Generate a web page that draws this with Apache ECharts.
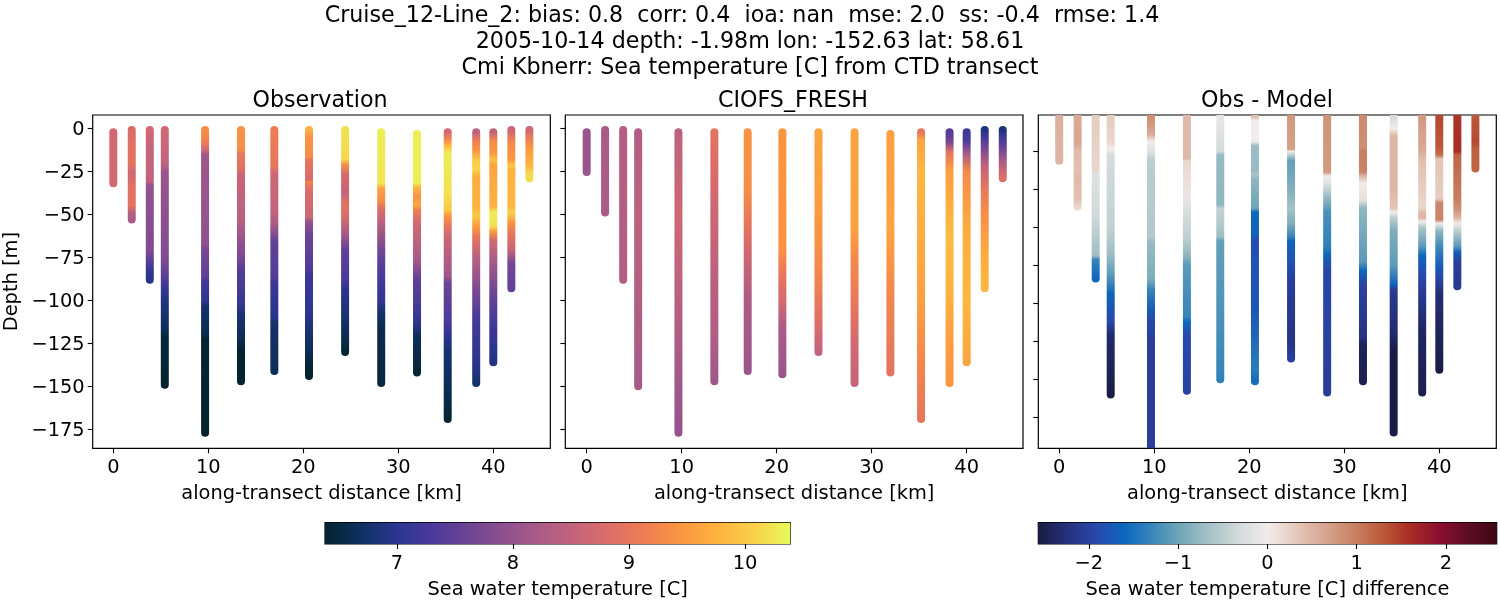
<!DOCTYPE html>
<html>
<head>
<meta charset="utf-8">
<title>Cruise_12-Line_2</title>
<script src="https://cdn.jsdelivr.net/npm/echarts@6/dist/echarts.min.js"></script>
<style>
html, body { margin: 0; padding: 0; background: #fff; }
#chart { width: 1500px; height: 600px; }
</style>
</head>
<body>
<div id="chart"></div>
<script>
// along-transect distance of each CTD cast [km]
const stationKm = [0, 1.94, 3.84, 5.42, 9.66, 13.44, 16.95, 20.6, 24.4, 28.2, 31.97, 35.2, 38.2, 40, 41.9, 43.8];

// one list per cast: [depth m, temperature C]
const obsCasts = [
    [[2.3, 8.7], [32, 8.7]],
    [[1, 8.8], [9, 8.9], [20, 8.95], [26, 8.65], [34, 8.9], [45, 8.95], [49, 8.4], [53, 8.2]],
    [[1, 8.7], [9, 8.55], [31, 8.5], [33, 8.0], [47, 7.9], [71, 7.8], [77, 7.45], [82, 7.1], [88, 6.95]],
    [[1, 8.65], [20, 8.5], [26, 8.05], [75, 7.8], [86, 7.45], [92, 7.15], [102, 6.85], [117, 6.65], [121, 6.45], [149, 6.4]],
    [[1, 9.35], [7, 9.2], [12.6, 8.7], [15.5, 8.1], [67, 7.95], [71, 7.7], [86, 7.5], [90, 7.2], [100, 7.05], [104, 6.75], [119, 6.6], [123, 6.42], [177, 6.38]],
    [[1, 9.4], [12.6, 9.35], [14.5, 9.05], [24, 8.9], [26, 8.6], [53, 8.4], [65, 8.0], [76.5, 7.7], [82, 7.4], [102, 7.1], [107.5, 6.85], [123, 6.6], [129, 6.4], [147, 6.38]],
    [[1, 9.1], [22, 9.0], [26, 8.65], [47.5, 8.55], [55, 8.25], [66.5, 7.5], [86, 7.4], [90, 7.15], [109.5, 7.0], [113, 6.75], [141, 6.65]],
    [[1, 9.75], [5, 9.4], [16.5, 9.35], [18.5, 9.0], [30, 8.75], [31, 9.2], [36, 8.8], [52, 8.6], [54, 8.0], [63, 7.6], [80.5, 7.4], [86, 7.15], [105.6, 7.05], [115, 6.85], [129, 6.65], [137, 6.42], [144, 6.4]],
    [[1, 10.2], [18, 10.15], [21, 9.4], [26, 8.8], [37.5, 8.5], [44, 8.95], [51, 8.8], [61, 8.2], [70.7, 7.5], [88, 7.3], [94, 7.0], [105.6, 6.85], [121, 6.6], [130, 6.42]],
    [[2.3, 10.3], [32, 10.25], [35, 9.6], [41.7, 9.35], [47.5, 8.8], [55, 8.4], [72.7, 7.6], [86, 7.3], [100, 7.05], [107.5, 6.75], [117, 6.55], [148, 6.5]],
    [[3.3, 10.3], [32, 10.3], [34, 9.8], [39.7, 9.4], [44.6, 9.65], [47.5, 9.15], [55, 8.7], [76.5, 8.2], [88, 7.5], [105.6, 7.2], [115, 6.95], [121, 6.65], [142, 6.42]],
    [[2.3, 8.7], [7, 9.35], [10.7, 9.9], [14.5, 10.3], [38, 10.2], [47.5, 10.0], [51, 9.4], [57, 9.0], [63, 8.6], [86, 8.1], [90, 7.6], [109.5, 7.35], [121, 7.0], [129, 6.8], [152, 6.6], [169, 6.4]],
    [[2.3, 8.45], [7, 9.1], [12.6, 9.4], [18.4, 10.0], [24, 10.1], [28, 9.7], [45.5, 9.75], [51, 10.0], [57, 9.5], [63, 9.0], [75, 8.4], [96, 7.7], [111, 7.25], [125, 7.1], [140, 6.95], [148, 6.75]],
    [[2.3, 8.5], [7, 9.3], [14.5, 9.5], [18.4, 9.9], [21, 9.6], [45.5, 9.75], [49, 10.3], [57, 10.2], [60, 9.5], [65, 8.7], [76.5, 8.2], [96, 7.6], [115, 7.2], [127, 7.0], [136, 6.9]],
    [[1, 8.6], [8.7, 9.3], [18.4, 9.5], [22, 10.0], [24, 9.75], [45.5, 9.8], [49, 10.1], [55, 9.4], [61, 9.0], [71, 8.5], [78.5, 7.7], [93, 7.5]],
    [[1, 8.65], [7, 9.2], [11.6, 9.5], [22, 9.8], [26, 10.15], [29, 10.15]]
];

// same casts in the CIOFS_FRESH panel
const modelCasts = [
    [[2.3, 8.05], [25.4, 8.05]],
    [[1, 8.2], [25, 8.25], [49, 8.2]],
    [[1, 8.35], [45, 8.35], [88, 8.3]],
    [[2.3, 8.3], [50, 8.45], [100, 8.3], [150, 8.2]],
    [[2.3, 8.45], [50, 8.65], [100, 8.4], [150, 8.1], [177, 8.0]],
    [[2.3, 8.95], [40, 8.7], [90, 8.4], [120, 8.3], [147, 8.1]],
    [[2.3, 9.4], [35, 9.35], [55, 9.0], [70, 8.7], [100, 8.25], [141, 8.05]],
    [[2.3, 9.45], [70, 9.4], [85, 9.0], [100, 8.75], [115, 8.25], [143, 8.05]],
    [[2.3, 9.6], [40, 9.55], [80, 9.3], [110, 8.9], [130, 8.5]],
    [[2.3, 9.6], [60, 9.55], [75, 9.3], [100, 9.05], [125, 8.7], [148, 8.55]],
    [[3.3, 9.55], [60, 9.6], [90, 9.3], [142, 8.95]],
    [[2.3, 9.0], [7, 9.6], [25, 9.8], [60, 9.7], [100, 9.55], [130, 9.3], [169, 9.0]],
    [[2.3, 7.4], [8, 7.7], [14, 9.0], [25, 9.55], [60, 9.85], [90, 9.8], [120, 9.55], [148, 9.45]],
    [[2.3, 7.2], [7, 7.3], [15, 8.2], [25, 9.3], [60, 9.7], [100, 9.8], [136, 9.6]],
    [[1, 6.9], [5, 7.2], [10, 7.6], [22, 8.5], [35, 9.0], [50, 9.35], [75, 9.7], [93, 9.8]],
    [[1, 6.85], [5, 7.2], [10, 7.5], [20, 8.3], [29, 8.85]]
];

// [depth m, obs - model C] as plotted in the right panel
const diffCasts = [
    [[2, 0.55], [25, 0.5]],
    [[2, 0.6], [15, 0.65], [20, 0.45], [30, 0.4], [33, 0.45], [45, 0.4], [49, 0.2]],
    [[2, 0.3], [30, 0.2], [32, -0.2], [55, -0.35], [60, -0.45], [75, -0.7], [77, -1.3], [87, -1.6]],
    [[2, 0.3], [15, 0.2], [19, 0.0], [22, -0.3], [60, -0.45], [74, -0.7], [85, -1.1], [95, -1.6], [110, -1.95], [117, -2.35], [148, -2.55]],
    [[2, 0.85], [11, 0.6], [15, 0.0], [20, -0.2], [25, -0.5], [65, -0.55], [68, -0.75], [87, -0.9], [93, -1.3], [103, -1.7], [108, -1.9], [120, -2.05], [178, -2.05]],
    [[2, 0.45], [24, 0.45], [25, 0.2], [40, 0.1], [45, -0.1], [55, -0.35], [65, -0.45], [75, -0.8], [80, -1.1], [107, -1.3], [110, -1.6], [117, -1.9], [146, -2.0]],
    [[2, -0.1], [20, -0.3], [22, -0.75], [48, -0.8], [50, -0.45], [55, -0.5], [65, -0.7], [67, -1.05], [110, -1.2], [135, -1.3], [140, -1.35]],
    [[2, 0.4], [4, 0.0], [15, 0.0], [17, -0.7], [30, -0.75], [32, -0.6], [35, -0.8], [50, -1.0], [52, -1.6], [64, -1.65], [66, -1.85], [105, -1.75], [135, -1.4], [141, -1.55]],
    [[2, 0.75], [19, 0.7], [20, 0.0], [22, -0.5], [25, -1.05], [42, -0.85], [50, -0.65], [58, -0.9], [65, -1.3], [67, -1.6], [80, -1.85], [87, -2.05], [120, -2.2], [129, -2.05]],
    [[2, 0.8], [31, 0.75], [33, 0.0], [37, -0.2], [45, -0.8], [52, -1.2], [70, -1.35], [75, -1.65], [83, -1.95], [147, -2.05]],
    [[2, 0.9], [18, 0.85], [20, 1.0], [31, 0.95], [33, 0.5], [37, 0.0], [43, 0.1], [46, -0.2], [50, -0.8], [78, -1.1], [83, -1.6], [90, -2.0], [118, -2.2], [122, -2.45], [141, -2.5]],
    [[2, -0.3], [8, 0.0], [12, 0.5], [40, 0.5], [50, 0.35], [52, 0.0], [55, -0.5], [62, -0.9], [80, -1.1], [90, -1.65], [93, -2.1], [115, -2.3], [125, -2.55], [168, -2.55]],
    [[2, 0.75], [20, 0.6], [25, 0.4], [50, 0.2], [52, 0.45], [55, 0.5], [57, 0.0], [60, -0.6], [70, -1.1], [75, -1.6], [85, -1.9], [95, -2.1], [115, -2.4], [147, -2.5]],
    [[2, 1.4], [18, 1.3], [22, 1.1], [24, 0.35], [45, 0.3], [47, 0.9], [56, 0.95], [58, 0.0], [62, -0.8], [70, -1.25], [80, -1.7], [88, -2.0], [95, -2.3], [135, -2.55]],
    [[2, 1.55], [20, 1.6], [22, 1.2], [45, 1.0], [50, 0.85], [55, 0.5], [58, 0.0], [62, -0.5], [70, -1.1], [73, -1.7], [78, -2.05], [91, -2.1]],
    [[2, 1.3], [15, 1.4], [19, 1.25], [29, 1.2]]
];

const distTicks = [0, 10, 20, 30, 40];
const depthTicks = [0, -25, -50, -75, -100, -125, -150, -175];
const diffDepthTicks = [-20, -40, -60, -80, -100, -120, -140, -160];
const tempTicks = [7, 8, 9, 10];
const diffTicks = [-2, -1, 0, 1, 2];

const thermalColors = ['#04232f', '#0d3160', '#2b3590', '#4b3a9c', '#6d4495', '#8e5090', '#ab5c87', '#c5647b', '#dd6e68', '#f07f52', '#fb9740', '#fdb440', '#f9d04a', '#e8f95a'];
const balanceColors = ['#181c43', '#26307c', '#2a47ad', '#0c66bd', '#3b87b9', '#74a8b8', '#a7c3c8', '#d3dadb', '#f1ecea', '#e5c8bc', '#d7a590', '#c98265', '#bc5a3b', '#a82b24', '#8b0f2e', '#5e0c26', '#3c0912'];

const tempRange = [6.38, 10.39];
const diffRange = [-2.567, 2.57];

const FONT = 'DejaVu Sans';
const LABEL_SIZE = 19.4;
const TITLE_SIZE = 22.2;
const CAST_WIDTH = 8;

function minusSign(v) {
    return String(v).replace('-', '\u2212');
}

function pick(colors, range, v) {
    return echarts.color.lerp((v - range[0]) / (range[1] - range[0]), colors);
}

// one rounded stroke per cast, the colour running down it through the read values
function castSeries(idx, casts, colors, range) {
    return {
        type: 'custom',
        xAxisIndex: idx,
        yAxisIndex: idx,
        clip: true,
        encode: { x: 0, y: 1 },
        data: stationKm.map(function (km, i) {
            return [km, -casts[i][0][0], -casts[i][casts[i].length - 1][0]];
        }),
        renderItem: function (params, api) {
            const cast = casts[params.dataIndex];
            const top = api.coord([api.value(0), api.value(1)]);
            const bottom = api.coord([api.value(0), api.value(2)]);
            const r = CAST_WIDTH / 2;
            const h = bottom[1] - top[1] + CAST_WIDTH;
            const stops = cast.map(function (p) {
                const y = api.coord([api.value(0), -p[0]])[1];
                return { offset: (y - top[1] + r) / h, color: pick(colors, range, p[1]) };
            });
            return {
                type: 'rect',
                shape: { x: top[0] - r, y: top[1] - r, width: CAST_WIDTH, height: h, r: r },
                style: { fill: new echarts.graphic.LinearGradient(0, 0, 0, 1, stops) }
            };
        }
    };
}

function colorbarSeries(idx, colors, range) {
    return {
        type: 'custom',
        xAxisIndex: idx,
        yAxisIndex: idx,
        data: [[range[0], range[1]]],
        renderItem: function (params, api) {
            const a = api.coord([api.value(0), 1]);
            const b = api.coord([api.value(1), 0]);
            const stops = colors.map(function (c, i) {
                return { offset: i / (colors.length - 1), color: c };
            });
            return {
                type: 'rect',
                shape: { x: a[0], y: a[1], width: b[0] - a[0], height: b[1] - a[1] },
                style: { fill: new echarts.graphic.LinearGradient(0, 0, 1, 0, stops) }
            };
        }
    };
}

function panelGrid(left, right) {
    return { left: left, width: right - left, top: 115, height: 333.3, show: true, borderColor: '#000', borderWidth: 1.2, backgroundColor: 'transparent' };
}

function xAxisOf(gridIndex, min, max, ticks, name, gap) {
    return {
        type: 'value',
        gridIndex: gridIndex,
        min: min,
        max: max,
        splitLine: { show: false },
        axisLine: { show: false, onZero: false },
        axisTick: { show: true, length: 5, customValues: ticks, lineStyle: { color: '#000', width: 1.1 } },
        axisLabel: { show: true, customValues: ticks, color: '#000', fontFamily: FONT, fontSize: LABEL_SIZE, margin: 10, formatter: minusSign },
        name: name,
        nameLocation: 'middle',
        nameGap: gap,
        nameTextStyle: { color: '#000', fontFamily: FONT, fontSize: LABEL_SIZE }
    };
}

function yAxisOf(gridIndex, min, max, ticks, showLabels, name) {
    return {
        type: 'value',
        gridIndex: gridIndex,
        min: min,
        max: max,
        splitLine: { show: false },
        axisLine: { show: false, onZero: false },
        axisTick: { show: true, length: 5, customValues: ticks, lineStyle: { color: '#000', width: 1.1 } },
        axisLabel: { show: showLabels, customValues: ticks, color: '#000', fontFamily: FONT, fontSize: LABEL_SIZE, margin: 8, verticalAlign: 'top', lineHeight: 4, formatter: minusSign },
        name: name,
        nameLocation: 'middle',
        nameGap: 71,
        nameTextStyle: { color: '#000', fontFamily: FONT, fontSize: LABEL_SIZE }
    };
}

function textTitle(text, x, y) {
    return {
        text: text,
        left: x,
        top: y,
        textAlign: 'center',
        padding: 0,
        textStyle: { color: '#000', fontFamily: FONT, fontWeight: 'normal', fontSize: TITLE_SIZE }
    };
}

const chartDom = document.getElementById('chart');
const myChart = echarts.init(chartDom);

const option = {
    animation: false,
    backgroundColor: '#fff',
    title: [
        textTitle('Cruise_12-Line_2: bias: 0.8  corr: 0.4  ioa: nan  mse: 2.0  ss: -0.4  rmse: 1.4', 742, 5),
        textTitle('2005-10-14 depth: -1.98m lon: -152.63 lat: 58.61', 750, 31),
        textTitle('Cmi Kbnerr: Sea temperature [C] from CTD transect', 750, 57),
        textTitle('Observation', 320, 90),
        textTitle('CIOFS_FRESH', 793, 90),
        textTitle('Obs - Model', 1267, 90)
    ],
    grid: [
        panelGrid(92.7, 550.3),
        panelGrid(565.3, 1023),
        panelGrid(1038.3, 1496.3),
        { left: 325, width: 465.3, top: 522.7, height: 22.3, show: true, borderColor: '#000', borderWidth: 1.2 },
        { left: 1038.3, width: 458.4, top: 522.7, height: 21.6, show: true, borderColor: '#000', borderWidth: 1.2 }
    ],
    xAxis: [
        xAxisOf(0, -2.17, 46, distTicks, 'along-transect distance [km]', 36),
        xAxisOf(1, -2.25, 45.93, distTicks, 'along-transect distance [km]', 36),
        xAxisOf(2, -2.2, 46, distTicks, 'along-transect distance [km]', 36),
        xAxisOf(3, tempRange[0], tempRange[1], tempTicks, 'Sea water temperature [C]', 36),
        xAxisOf(4, diffRange[0], diffRange[1], diffTicks, 'Sea water temperature [C] difference', 36)
    ],
    yAxis: [
        yAxisOf(0, -186, 7.73, depthTicks, true, 'Depth [m]'),
        yAxisOf(1, -186, 7.73, depthTicks, false, ''),
        yAxisOf(2, -176.3, -0.9, diffDepthTicks, false, ''),
        { type: 'value', gridIndex: 3, min: 0, max: 1, show: false },
        { type: 'value', gridIndex: 4, min: 0, max: 1, show: false }
    ],
    series: [
        castSeries(0, obsCasts, thermalColors, tempRange),
        castSeries(1, modelCasts, thermalColors, tempRange),
        castSeries(2, diffCasts, balanceColors, diffRange),
        colorbarSeries(3, thermalColors, tempRange),
        colorbarSeries(4, balanceColors, diffRange)
    ]
};
option && myChart.setOption(option);
</script>
</body>
</html>
